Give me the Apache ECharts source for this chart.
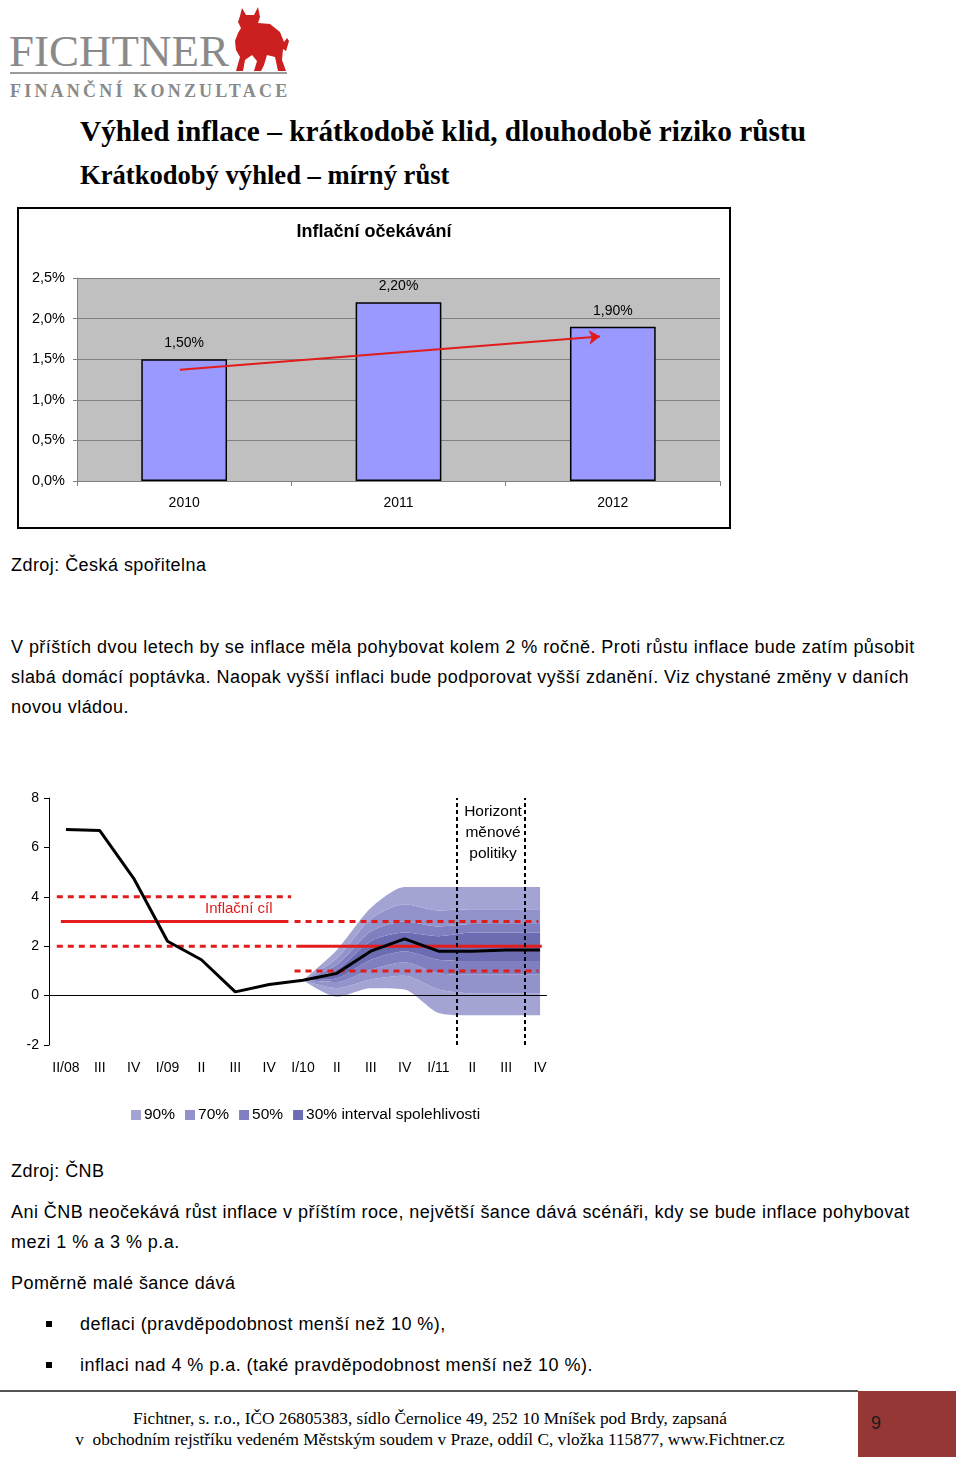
<!DOCTYPE html>
<html lang="cs">
<head>
<meta charset="utf-8">
<title>Výhled inflace</title>
<script src="https://cdn.jsdelivr.net/npm/echarts@6/dist/echarts.min.js"></script>
<style>
  body { margin: 0; background: #fff; font-family: "Liberation Sans", Arial, sans-serif; color: #000; }
  #page { position: relative; width: 960px; height: 1457px; overflow: hidden; }
  .abs { position: absolute; white-space: nowrap; }
  .txt { left: 11px; font-size: 18px; line-height: 30px; letter-spacing: 0.45px; }
  .serif { font-family: "Liberation Serif", "Times New Roman", serif; }
  .bul { position: absolute; left: 46px; width: 6px; height: 6px; background: #000; }
</style>
</head>
<body>
<div id="page">
  <!-- logo -->
  <div class="abs serif" style="left:9px;top:29px;font-size:45px;line-height:45px;color:#8a8a8a;">FICHTNER</div>
  <svg class="abs" style="left:230px;top:5px;" width="60" height="68" viewBox="0 0 60 68">
    <path d="M12,3 L16,10 L24,10 L28,2 L30,12 L28,18 L40,19 L50,27 L54,37 L57,33 L59,36 L56,46 L53,44 L52,55 L56,66 L48,66 L45,52 L37,50 L34,60 L31,66 L24,66 L27,56 L22,50 L15,55 L13,66 L6,66 L10,52 L6,45 L5,36 L8,28 L11,23 L8,17 L10,11 Z" fill="#cc1f1f"/>
  </svg>
  <div class="abs" style="left:10px;top:72px;width:277px;height:2px;background:#9a9a9a;"></div>
  <div class="abs serif" style="left:10px;top:80px;font-size:18px;line-height:22px;font-weight:bold;color:#8a8a8a;letter-spacing:3.2px;">FINANČNÍ KONZULTACE</div>

  <div class="abs serif" style="left:80px;top:111px;font-size:29.3px;line-height:40px;font-weight:bold;">Výhled inflace – krátkodobě klid, dlouhodobě riziko růstu</div>
  <div class="abs serif" style="left:80px;top:155px;font-size:26.6px;line-height:40px;font-weight:bold;">Krátkodobý výhled – mírný růst</div>

  <div id="chart1" class="abs" style="left:17px;top:207px;width:714px;height:322px;border:2px solid #000;box-sizing:border-box;"></div>

  <div class="abs txt" style="top:550px;">Zdroj: Česká spořitelna</div>
  <div class="abs txt" style="top:632px;">V příštích dvou letech by se inflace měla pohybovat kolem 2 % ročně. Proti růstu inflace bude zatím působit<br>slabá domácí poptávka. Naopak vyšší inflaci bude podporovat vyšší zdanění. Viz chystané změny v daních<br>novou vládou.</div>

  <div id="chart2" class="abs" style="left:0px;top:780px;width:600px;height:360px;"></div>

  <div class="abs txt" style="top:1156px;">Zdroj: ČNB</div>
  <div class="abs txt" style="top:1197px;">Ani ČNB neočekává růst inflace v příštím roce, největší šance dává scénáři, kdy se bude inflace pohybovat<br>mezi 1 % a 3 % p.a.</div>
  <div class="abs txt" style="top:1268px;">Poměrně malé šance dává</div>
  <div class="bul" style="top:1321px;"></div>
  <div class="abs txt" style="left:80px;top:1309px;">deflaci (pravděpodobnost menší než 10 %),</div>
  <div class="bul" style="top:1362px;"></div>
  <div class="abs txt" style="left:80px;top:1350px;">inflaci nad 4 % p.a. (také pravděpodobnost menší než 10 %).</div>

  <!-- footer -->
  <div class="abs" style="left:0px;top:1390px;width:858px;height:2px;background:#555;"></div>
  <div class="abs serif" style="left:0px;top:1408px;width:860px;text-align:center;font-size:17.3px;line-height:21px;">Fichtner, s. r.o., IČO 26805383, sídlo Černolice 49, 252 10 Mníšek pod Brdy, zapsaná<br>v&nbsp; obchodním rejstříku vedeném Městským soudem v Praze, oddíl C, vložka 115877, www.Fichtner.cz</div>
  <div class="abs" style="left:858px;top:1391px;width:98px;height:66px;background:#953735;"></div>
  <div class="abs" style="left:871px;top:1412px;font-size:18px;line-height:22px;color:#1a1a1a;">9</div>
</div>

<script>
// --- graf 1: inflacni ocekavani ---
var years = ["2010", "2011", "2012"];
var expectValues = [1.5, 2.2, 1.9];
var arrowFrom = [-0.02, 1.37];
var arrowTo = [1.94, 1.78];

// --- graf 2: prognoza CNB ---
var quarters = ["II/08", "III", "IV", "I/09", "II", "III", "IV", "I/10", "II", "III", "IV", "I/11", "II", "III", "IV"];
var cpi = [6.72, 6.68, 4.75, 2.2, 1.45, 0.15, 0.45, 0.62, 0.9, 1.8, 2.3, 1.8, 1.8, 1.85, 1.85];
var fanStart = 7; // I/10
var hi90 = [0.62, 1.85, 3.55, 4.4, 4.4, 4.4, 4.4, 4.4];
var hi70 = [0.62, 1.5, 3.1, 3.7, 3.45, 3.5, 3.5, 3.5];
var hi50 = [0.62, 1.25, 2.6, 3.0, 2.8, 2.9, 2.9, 2.9];
var hi30 = [0.62, 1.05, 2.2, 2.55, 2.4, 2.55, 2.55, 2.55];
var lo30 = [0.62, 0.7, 1.45, 1.8, 1.45, 1.4, 1.4, 1.4];
var lo50 = [0.62, 0.55, 1.05, 1.35, 0.9, 0.85, 0.85, 0.85];
var lo70 = [0.62, 0.3, 0.65, 0.8, 0.25, 0.1, 0.1, 0.1];
var lo90 = [0.62, -0.05, 0.3, 0.25, -0.7, -0.8, -0.8, -0.8];
var bandColors = { "90%": "#a4a4d4", "70%": "#9393cb", "50%": "#8080c0", "30% interval spolehlivosti": "#6c6cb3" };
// inflacni cil (x = poradi ctvrtleti)
var targetOld = { from: -0.15, to: 6.57, value: 3, low: 2, high: 4, dotFrom: -0.27, dotTo: 6.65 };
var targetNew = { from: 6.8, to: 14.05, value: 2, low: 1, high: 3, dotFrom: 6.75, dotTo: 13.95 };
var horizonLines = [11.55, 13.54];
var zeroLineEnd = 14.2;

var red = "#e21b1b";
var fontFam = "Liberation Sans, Arial, sans-serif";

function pctLabel(v, d) {
  return v.toFixed(d).replace(".", ",") + "%";
}

var hiddenX = { show: false, axisLine: { show: false }, splitLine: { show: false }, axisTick: { show: false } };

var chart1 = echarts.init(document.getElementById("chart1"));
chart1.setOption({
  animation: false,
  textStyle: { fontFamily: fontFam },
  title: {
    text: "Inflační očekávání",
    left: "center",
    top: 9,
    textStyle: { fontSize: 18, fontWeight: "bold", color: "#000" }
  },
  grid: { left: 58, top: 69, width: 643, height: 203, show: true, backgroundColor: "#c0c0c0", borderWidth: 0 },
  xAxis: [
    {
      type: "category",
      data: years,
      axisLine: { lineStyle: { color: "#808080", width: 1 } },
      axisTick: { show: true, length: 5, lineStyle: { color: "#808080" } },
      axisLabel: { color: "#000", fontSize: 14, margin: 15 }
    },
    Object.assign({ type: "value", min: -0.5, max: 2.5 }, hiddenX)
  ],
  yAxis: {
    type: "value",
    min: 0,
    max: 2.5,
    interval: 0.5,
    axisLine: { show: true, onZero: false, lineStyle: { color: "#808080" } },
    axisTick: { show: true, length: 4, lineStyle: { color: "#808080" } },
    splitLine: { lineStyle: { color: "#808080", width: 1 } },
    axisLabel: { color: "#000", fontSize: 14.5, margin: 12, formatter: function (v) { return pctLabel(v, 1); } }
  },
  series: [
    {
      type: "bar",
      data: expectValues,
      barWidth: "40%",
      itemStyle: { color: "#9999ff", borderColor: "#000", borderWidth: 1.5 },
      label: {
        show: true,
        position: "top",
        distance: 9,
        color: "#000",
        fontSize: 14,
        formatter: function (p) { return pctLabel(p.value, 2); }
      }
    },
    {
      type: "line",
      xAxisIndex: 1,
      data: [arrowFrom, arrowTo],
      symbol: "none",
      lineStyle: { opacity: 0 },
      markLine: {
        silent: true,
        symbol: ["none", "arrow"],
        symbolSize: 11,
        label: { show: false },
        lineStyle: { color: red, width: 2, type: "solid" },
        data: [[{ coord: arrowFrom }, { coord: arrowTo }]]
      }
    }
  ]
});

// pasy vejire skladane od spodniho okraje
var edges = [lo90, lo70, lo50, lo30, hi30, hi50, hi70, hi90];
var bandNames = ["90%", "70%", "50%", "30% interval spolehlivosti", "50%", "70%", "90%"];

function padFan(arr) {
  var out = [];
  for (var i = 0; i < quarters.length; i++) {
    var k = i - fanStart;
    out.push(k >= 0 && k < arr.length ? arr[k] : "-");
  }
  return out;
}

var fanSeries = [{
  name: "base",
  type: "line",
  stack: "fan",
  stackStrategy: "all",
  data: padFan(lo90),
  symbol: "none",
  smooth: 0.25,
  lineStyle: { opacity: 0 },
  z: 1
}];
for (var b = 1; b < edges.length; b++) {
  var diff = edges[b].map(function (v, i) { return +(v - edges[b - 1][i]).toFixed(3); });
  fanSeries.push({
    name: bandNames[b - 1],
    type: "line",
    stack: "fan",
    stackStrategy: "all",
    data: padFan(diff),
    symbol: "none",
    smooth: 0.25,
    color: bandColors[bandNames[b - 1]],
    lineStyle: { opacity: 0 },
    areaStyle: { color: bandColors[bandNames[b - 1]], opacity: 1 },
    z: 1
  });
}

function hline(x0, x1, y, dashed) {
  return {
    type: "line",
    xAxisIndex: 1,
    data: [[x0, y], [x1, y]],
    symbol: "none",
    lineStyle: { color: red, width: 3, type: dashed ? [6, 5] : "solid" },
    z: 3
  };
}

var targetSeries = [
  hline(targetOld.from, targetOld.to, targetOld.value, false),
  hline(targetOld.dotFrom, targetOld.dotTo, targetOld.high, true),
  hline(targetOld.dotFrom, targetOld.dotTo, targetOld.low, true),
  hline(targetNew.from, targetNew.to, targetNew.value, false),
  hline(targetNew.dotFrom, targetNew.dotTo, targetNew.high, true),
  hline(targetNew.dotFrom, targetNew.dotTo, targetNew.low, true)
];
targetSeries[0].markLine = {
  silent: true,
  symbol: "none",
  label: { show: false },
  lineStyle: { color: "#000", width: 1, type: "solid" },
  data: [[{ coord: [-0.5, 0] }, { coord: [zeroLineEnd, 0] }]]
};
targetSeries[3].markLine = {
  silent: true,
  symbol: "none",
  label: { show: false },
  lineStyle: { color: "#000", width: 2, type: [4, 3] },
  data: horizonLines.map(function (x) { return { xAxis: x }; })
};

var chart2 = echarts.init(document.getElementById("chart2"));
chart2.setOption({
  animation: false,
  textStyle: { fontFamily: fontFam },
  grid: { left: 49, top: 18, width: 508, height: 247 },
  legend: {
    data: ["90%", "70%", "50%", "30% interval spolehlivosti"],
    left: 126,
    top: 322,
    icon: "rect",
    itemWidth: 10,
    itemHeight: 10,
    itemGap: 10,
    textStyle: { fontSize: 15.5, color: "#000", padding: [0, 0, 0, -2] }
  },
  xAxis: [
    {
      type: "category",
      data: quarters,
      axisLine: { show: false },
      axisTick: { show: false },
      axisLabel: { color: "#000", fontSize: 14, margin: 16, interval: 0 }
    },
    Object.assign({ type: "value", min: -0.5, max: 14.5 }, hiddenX)
  ],
  yAxis: {
    type: "value",
    min: -2,
    max: 8,
    interval: 2,
    axisLine: { show: true, onZero: false, lineStyle: { color: "#000", width: 1 } },
    axisTick: { show: true, length: 5, lineStyle: { color: "#000" } },
    splitLine: { show: false },
    axisLabel: { color: "#000", fontSize: 14, margin: 10 }
  },
  graphic: [
    {
      type: "text",
      x: 493,
      y: 21,
      style: { text: "Horizont\nměnové\npolitiky", fontSize: 15.5, lineHeight: 21, fill: "#000", align: "center", fontFamily: fontFam }
    },
    {
      type: "text",
      x: 205,
      y: 121,
      style: { text: "Inflační cíl", fontSize: 15, fill: red, fontFamily: fontFam }
    }
  ],
  series: fanSeries.concat(targetSeries).concat([
    {
      name: "cpi",
      type: "line",
      data: cpi,
      symbol: "none",
      lineStyle: { color: "#000", width: 3 },
      z: 4
    }
  ])
});
</script>
</body>
</html>
